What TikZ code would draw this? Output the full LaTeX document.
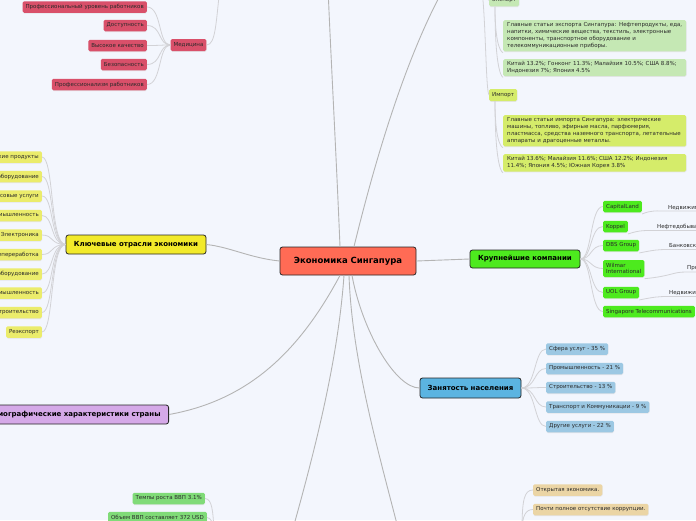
\documentclass[tikz,border=0pt]{standalone}
\usepackage{fontspec}
\setmainfont{DejaVu Sans}
\usetikzlibrary{shadows}
\definecolor{bg}{HTML}{F3F6FD}
\definecolor{ccenter}{HTML}{FF6B55}
\definecolor{ckey}{HTML}{F2EA2A}
\definecolor{ckeyl}{HTML}{EBEC6B}
\definecolor{ccomp}{HTML}{4DEA1E}
\definecolor{cemp}{HTML}{5BB4E1}
\definecolor{cempl}{HTML}{9CC8E3}
\definecolor{cdem}{HTML}{D5A9E8}
\definecolor{cmed}{HTML}{D9506A}
\definecolor{cexp}{HTML}{C5E8B4}
\definecolor{cimp}{HTML}{D5EC6A}
\definecolor{cgdp}{HTML}{80DB78}
\definecolor{cbeige}{HTML}{EBD5A5}
\definecolor{txt}{HTML}{2A2A2A}
\definecolor{lmain}{HTML}{B4B4B4}
\definecolor{lleaf}{HTML}{D2D2D6}
\begin{document}
\begin{tikzpicture}[x=1pt,y=-1pt,
  topic/.style={draw=black!85, line width=0.8pt, rounded corners=2.5pt, inner sep=0pt,
    font=\bfseries\fontsize{7}{8}\selectfont, text=black},
  leaf/.style={rounded corners=1.5pt, inner xsep=3pt, inner ysep=0pt, minimum height=11.5,
    font=\fontsize{5.5}{6.6}\selectfont, text=txt,
    drop shadow={shadow xshift=0.3pt, shadow yshift=-0.8pt, fill=black!16}},
  para/.style={leaf, inner xsep=4pt, inner ysep=2.5pt, align=left, text width=175pt, font=\fontsize{5.5}{7}\selectfont},
  subtxt/.style={inner sep=1pt, font=\fontsize{5.5}{6.6}\selectfont, text=txt},
  mainline/.style={draw=lmain, line width=0.9pt},
  leafline/.style={draw=lleaf, line width=0.8pt}]
\useasboundingbox (0,0) rectangle (696,520);
\fill[bg] (0,0) rectangle (696,520);

% ---------- main topics ----------
\node[topic, fill=ccenter, minimum width=136, minimum height=28, font=\bfseries\fontsize{8.5}{10}\selectfont] (c) at (348,261) {Экономика Сингапура};
\node[topic, fill=ckey, minimum width=140, minimum height=19] (ki) at (136,244.5) {Ключевые отрасли экономики};
\node[topic, fill=ccomp, minimum width=110, minimum height=18] (co) at (525,259) {Крупнейшие компании};
\node[topic, fill=cemp, minimum width=101, minimum height=20] (em) at (470.5,388) {Занятость населения};
\node[topic, fill=cdem, minimum height=19, inner xsep=8pt, anchor=east] (dm) at (169,414.5) {Демографические характеристики страны};

% off-picture ends
\coordinate (topA) at (328,-12);
\coordinate (topB) at (444,-12);
\coordinate (topM) at (220,-12);
\coordinate (ft) at (478,-25);
\coordinate (botG) at (292,532);
\coordinate (botH) at (399,532);
\coordinate (gdpP) at (214,532);
\coordinate (begP) at (522,532);

\draw[mainline] (c.west) .. controls (250,258) and (230,247) .. (ki.east);
\draw[mainline] (c.east) -- (co.west);
\draw[mainline] ([xshift=4pt]c.south) .. controls (362,330) and (395,388) .. (em.west);
\draw[mainline] ([xshift=-8pt]c.south) .. controls (300,350) and (250,400) .. (dm.east);
\draw[mainline] ([xshift=-8pt]c.north) .. controls (336,150) and (331,60) .. (topA);
\draw[mainline] ([xshift=6pt]c.north) .. controls (380,140) and (410,50) .. (topB);
\draw[mainline] ([xshift=-4pt]c.south) .. controls (338,360) and (315,450) .. (botG);
\draw[mainline] ([xshift=1pt]c.south) .. controls (352,360) and (378,450) .. (botH);

% ---------- medicine ----------
\node[leaf, fill=cmed, minimum height=12] (med) at (188.5,45) {Медицина};
\draw[leafline] (med.east) .. controls (216,45) and (216,20) .. (topM);
\foreach \n/\y/\t in {m1/7/Профессиональный уровень работников, m2/25.5/Доступность, m3/45.5/Высокое качество, m4/64.5/Безопасность, m5/84.5/Профессионализм работников}{
  \node[leaf, fill=cmed, anchor=east] (\n) at (147,\y) {\t};
  \draw[leafline] (med.west) .. controls (158,45) and (162,\y) .. (\n.east);
}

% ---------- key industries ----------
\foreach \n/\y/\t in {k1/157/Химические продукты, k2/176.5/Транспортное оборудование, k3/196/Финансовые услуги, k4/215.5/Нефтяная промышленность, k5/235/Электроника, k6/254.5/Нефтепереработка, k7/274/Электронное оборудование, k8/293/Химическая промышленность, k9/312.5/Судостроительство, k10/332/Реэкспорт}{
  \node[leaf, fill=ckeyl, anchor=east] (\n) at (42,\y) {\t};
  \draw[leafline] (ki.west) .. controls (50,244.5) and (54,\y) .. (\n.east);
}

% ---------- companies ----------
\node[leaf, fill=ccomp, anchor=west] (p1) at (603,206.5) {CapitalLand};
\node[leaf, fill=ccomp, anchor=west] (p2) at (603,226.5) {Koppel};
\node[leaf, fill=ccomp, anchor=west] (p3) at (603,245.5) {DBS Group};
\node[leaf, fill=ccomp, anchor=west, align=left, minimum height=17, inner ysep=1pt] (p4) at (603,268.5) {Wilmar\\International};
\node[leaf, fill=ccomp, anchor=west] (p5) at (603,292.5) {UOL Group};
\node[leaf, fill=ccomp, anchor=west] (p6) at (603,311.5) {Singapore Telecommunications};
\foreach \n in {p1,p2,p3,p4,p5,p6}{
  \draw[leafline] (co.east) .. controls (592,259) and ([xshift=-13pt]\n.west) .. (\n.west);
}
\node[subtxt, anchor=south west] (s1) at (667,211) {Недвижимость};
\node[subtxt, anchor=south west] (s2) at (656,230.5) {Нефтедобывающая отрасль};
\node[subtxt, anchor=south west] (s3) at (668,249.5) {Банковское дело};
\node[subtxt, anchor=south west] (s4) at (686,272) {Производство};
\node[subtxt, anchor=south west] (s5) at (668,296.5) {Недвижимость};
\draw[leafline] ([yshift=-1.5pt]p1.south east) .. controls (652,210) and (656,211) .. (s1.south west) -- (s1.south east);
\draw[leafline] ([yshift=-1.5pt]p2.south east) .. controls (640,230) and (645,230.5) .. (s2.south west) -- (s2.south east);
\draw[leafline] ([yshift=-1.5pt]p3.south east) .. controls (654,250) and (658,249.5) .. (s3.south west) -- (s3.south east);
\draw[leafline] ([yshift=-1.5pt]p4.south east) .. controls (672,276) and (672,272) .. (s4.south west) -- (s4.south east);
\draw[leafline] ([yshift=-1.5pt]p5.south east) .. controls (654,297) and (658,296.5) .. (s5.south west) -- (s5.south east);

% ---------- employment ----------
\foreach \n/\y/\t in {e1/349/Сфера услуг - 35 \%, e2/368.5/Промышленность - 21 \%, e3/387.5/Строительство - 13 \%, e4/407/Транспорт и Коммуникации - 9 \%, e5/426.5/Другие услуги - 22 \%}{
  \node[leaf, fill=cempl, anchor=west] (\n) at (546,\y) {\t};
  \draw[leafline] (em.east) .. controls (536,388) and (534,\y) .. (\n.west);
}

% ---------- export / import ----------
\node[leaf, fill=cexp, anchor=south west, minimum height=12] (ex) at (489,6.5) {Экспорт};
\node[leaf, fill=cimp, anchor=west, minimum height=12] (im) at (489,95) {Импорт};
\draw[leafline] (ft) .. controls (485,-25) and (485,0) .. (ex.west);
\draw[leafline] (ft) .. controls (486,-20) and (485,90) .. (im.west);
\node[para, fill=cexp, anchor=north west] (x1) at (503,20) {Главные статьи экспорта Сингапура: Нефтепродукты, еда,\\напитки, химические вещества, текстиль, электронные\\компоненты, транспортное оборудование и\\телекоммуникационные приборы.};
\node[para, fill=cexp, anchor=north west] (x2) at (503,59) {Китай 13.2\%; Гонконг 11.3\%; Малайзия 10.5\%; США 8.8\%;\\Индонезия 7\%; Япония 4.5\%};
\node[para, fill=cimp, anchor=north west] (i1) at (503,115) {Главные статьи импорта Сингапура: электрические\\машины, топливо, эфирные масла, парфюмерия,\\пластмасса, средства наземного транспорта, летательные\\аппараты и драгоценные металлы.};
\node[para, fill=cimp, anchor=north west] (i2) at (503,154) {Китай 13.6\%; Малайзия 11.6\%; США 12.2\%; Индонезия\\11.4\%; Япония 4.5\%; Южная Корея 3.8\%};
\draw[leafline] ([xshift=6pt]ex.south west) .. controls ([xshift=6pt]ex.south west |- x1.south west) and ([yshift=-1pt]x1.south west) .. ([yshift=-1pt]x1.south west);
\draw[leafline] ([xshift=6pt]ex.south west) .. controls ([xshift=6pt]ex.south west |- x2.south west) and ([yshift=-1pt]x2.south west) .. ([yshift=-1pt]x2.south west);
\draw[leafline] ([xshift=6pt]im.south west) .. controls ([xshift=6pt]im.south west |- i1.south west) and ([yshift=-1pt]i1.south west) .. ([yshift=-1pt]i1.south west);
\draw[leafline] ([xshift=6pt]im.south west) .. controls ([xshift=6pt]im.south west |- i2.south west) and ([yshift=-1pt]i2.south west) .. ([yshift=-1pt]i2.south west);

% ---------- GDP ----------
\node[leaf, fill=cgdp, anchor=east] (g1) at (205,498.5) {Темпы роста ВВП 3.1\%};
\node[leaf, fill=cgdp, anchor=east] (g2) at (207,517.5) {Объем ВВП составляет 372 USD};
\draw[leafline] (g1.east) .. controls (212,499) and (213,510) .. (gdpP);
\draw[leafline] (g2.east) .. controls (211,518) and (213,522) .. (gdpP);

% ---------- beige ----------
\node[leaf, fill=cbeige, anchor=west] (b1) at (533,490) {Открытая экономика.};
\node[leaf, fill=cbeige, anchor=west] (b2) at (533,509.5) {Почти полное отсутствие коррупции.};
\draw[leafline] (begP) .. controls (522,500) and (524,490) .. (b1.west);
\draw[leafline] (begP) .. controls (522,515) and (526,509.5) .. (b2.west);
\end{tikzpicture}
\end{document}
